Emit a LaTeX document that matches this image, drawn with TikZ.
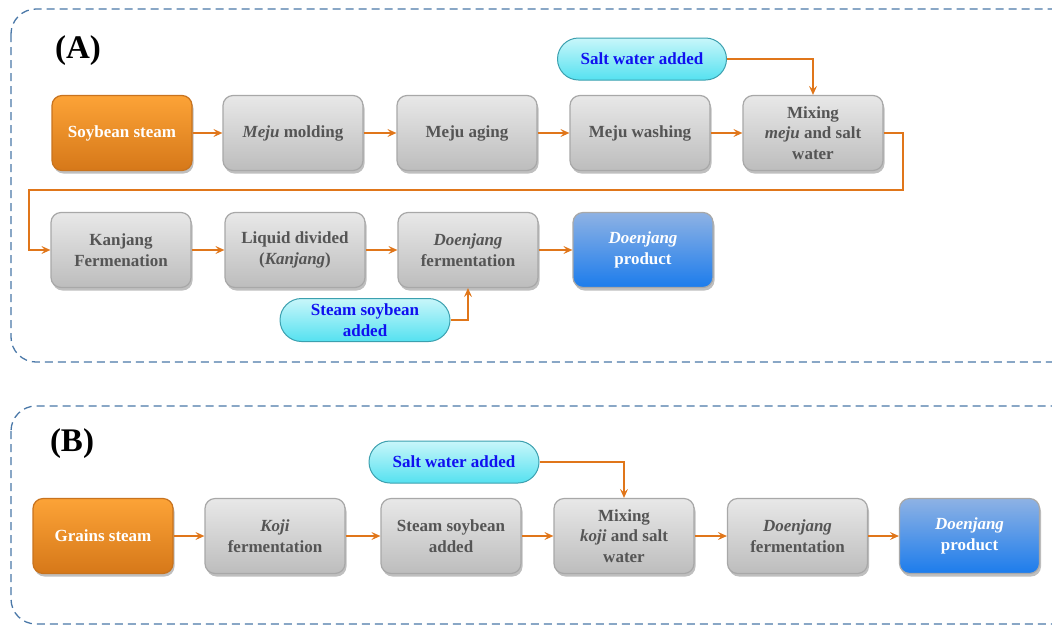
\documentclass[tikz,border=0pt]{standalone}
\usepackage{fontspec}
\setmainfont{Liberation Serif}
\usetikzlibrary{arrows.meta,shapes.misc,shadows}
\definecolor{dashblue}{HTML}{4A78A8}
\definecolor{arr}{HTML}{E0761A}
\definecolor{graytxt}{HTML}{555555}
\definecolor{graybd}{HTML}{A8A8A8}
\definecolor{pilltxt}{HTML}{1010F0}
\tikzset{
  panel/.style={draw=dashblue, line width=1.3pt, dash pattern=on 8pt off 5pt, rounded corners=25pt},
  boxbase/.style={rounded corners=10pt, minimum width=140pt, minimum height=75pt, align=center,
    font=\fontsize{17}{20.5}\selectfont\bfseries, line width=1.2pt,
    drop shadow={shadow xshift=1.5pt, shadow yshift=-3pt, opacity=0.25, fill=black}},
  graybox/.style={boxbase, draw=graybd, top color=white!91!black, bottom color=white!74!black, text=graytxt},
  orangebox/.style={boxbase, draw={rgb,255:red,200;green,115;blue,30}, top color={rgb,255:red,252;green,163;blue,55}, middle color={rgb,255:red,247;green,147;blue,30}, bottom color={rgb,255:red,214;green,120;blue,25}, text=white},
  bluebox/.style={boxbase, draw=graybd, top color={rgb,255:red,142;green,178;blue,228}, middle color={rgb,255:red,45;green,75;blue,170}, bottom color={rgb,255:red,28;green,124;blue,236}, text=white},
  pill/.style={rounded rectangle, draw={rgb,255:red,60;green,160;blue,175}, line width=1pt, top color={rgb,255:red,200;green,246;blue,250}, bottom color={rgb,255:red,85;green,225;blue,240}, text=pilltxt, align=center, font=\fontsize{17}{20.5}\selectfont\bfseries, inner sep=0pt},
  flow/.style={draw=arr, line width=1.5pt, -{Stealth[length=9pt,width=8pt,inset=3.5pt]}},
  lbl/.style={font=\fontsize{33}{33}\selectfont\bfseries, text=black}
}
\begin{document}
\begin{tikzpicture}[x=1pt,y=-1pt]
\useasboundingbox (0,0) rectangle (1052,625);
\begin{scope}
\clip (0,0) rectangle (1052,625);
\draw[panel] (11,9) rectangle (1080,362);
\draw[panel] (11,406) rectangle (1080,624);
\end{scope}
\node[lbl] (la) at (78,51) {(A)};
\node[lbl] (lb) at (72,444) {(B)};
% panel A
\node[orangebox] (s1) at (122,133) {Soybean steam};
\node[graybox] (m1) at (293,133) {\textit{Meju} molding};
\node[graybox] (m2) at (467,133) {Meju aging};
\node[graybox] (m3) at (640,133) {Meju washing};
\node[graybox] (m4) at (813,133) {Mixing\\\textit{meju} and salt\\water};
\node[graybox] (k1) at (121,250) {Kanjang\\Fermenation};
\node[graybox] (k2) at (295,250) {Liquid divided\\(\textit{Kanjang})};
\node[graybox] (k3) at (468,250) {\textit{Doenjang}\\fermentation};
\node[bluebox] (k4) at (643,250) {\textit{Doenjang}\\product};
\node[pill, minimum width=169pt, minimum height=42pt] (wa) at (642,59) {Salt water added};
\node[pill, minimum width=170pt, minimum height=43pt] (sa) at (365,320) {Steam soybean\\added};
\coordinate (c1) at (903,190);
\coordinate (c2) at (29,190);
\draw[flow] (s1) -- (m1);
\draw[flow] (m1) -- (m2);
\draw[flow] (m2) -- (m3);
\draw[flow] (m3) -- (m4);
\draw[flow] (wa.east) -| (m4.north);
\draw[flow] (m4.east) -| (c1) -- (c2) |- (k1.west);
\draw[flow] (k1) -- (k2);
\draw[flow] (k2) -- (k3);
\draw[flow] (k3) -- (k4);
\draw[flow] (sa.east) -| (k3.south);
% panel B
\node[orangebox] (g1) at (103,536) {Grains steam};
\node[graybox] (g2) at (275,536) {\textit{Koji}\\fermentation};
\node[graybox] (g3) at (451,536) {Steam soybean\\added};
\node[graybox] (g4) at (624,536) {Mixing\\\textit{koji} and salt\\water};
\node[graybox] (g5) at (797.5,536) {\textit{Doenjang}\\fermentation};
\node[bluebox] (g6) at (969.5,536) {\textit{Doenjang}\\product};
\node[pill, minimum width=170pt, minimum height=42pt] (wb) at (454,462) {Salt water added};
\draw[flow] (g1) -- (g2);
\draw[flow] (g2) -- (g3);
\draw[flow] (g3) -- (g4);
\draw[flow] (g4) -- (g5);
\draw[flow] (g5) -- (g6);
\draw[flow] (wb.east) -| (g4.north);
\end{tikzpicture}
\end{document}
